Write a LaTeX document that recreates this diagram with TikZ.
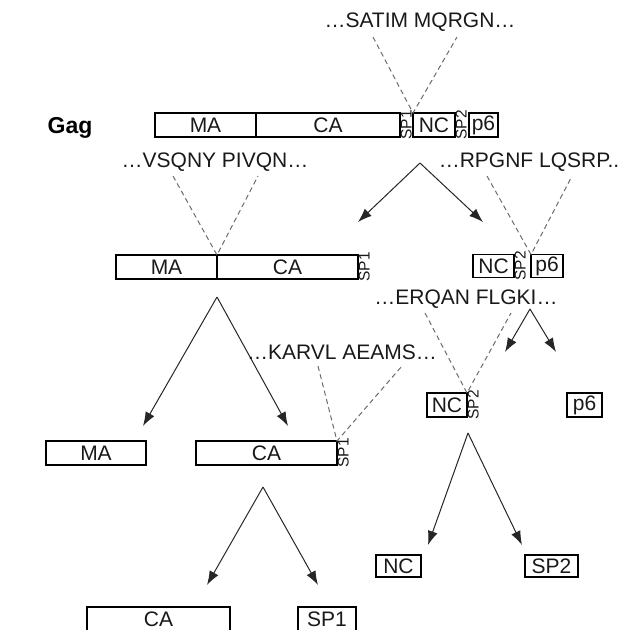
\documentclass[tikz,border=0pt]{standalone}
\usepackage{fontspec}
\setmainfont{Liberation Sans}
\usetikzlibrary{arrows.meta,positioning}

\tikzset{
  seg/.style={draw, line width=1.3pt, outer sep=0pt, inner sep=0pt,
    minimum height=24pt, text=black!90, font=\fontsize{21}{22}\selectfont},
  cut/.style={rotate=90, inner sep=0.5pt, text=black!90,
    font=\fontsize{15.5}{16}\selectfont},
  seq/.style={text=black!90, font=\fontsize{21}{22}\selectfont},
  site/.style={gray!85!black, line width=1pt, dash pattern=on 5pt off 3.5pt},
  split/.style={-{Latex[length=14pt,width=10pt]}, black!85, line width=1pt}
}

\begin{document}
\begin{tikzpicture}[x=1pt,y=-1pt]
  \useasboundingbox (0,0) rectangle (624,630);
  \clip (0,0) rectangle (624,630);

  % full Gag
  \node[font=\fontsize{23}{24}\bfseries] (gag) at (70,128) {Gag};
  \node[seg, minimum width=101pt, anchor=west] (gMA) at (155,125) {MA};
  \node[seg, minimum width=144pt, right=0pt of gMA] (gCA) {CA};
  \node[cut, anchor=north] (gSP1) at (gCA.east) {SP1};
  \node[seg, minimum width=42pt, anchor=west] (gNC) at (413,125) {NC};
  \node[cut, anchor=north] (gSP2) at (gNC.east) {SP2};
  \node[seg, minimum width=29pt, anchor=west] (gp6) at (469,125) {p6};

  % first cut
  \node[seq] (sNC) at (420,22) {…SATIM MQRGN…};
  \draw[site] ([xshift=-47pt,yshift=-15pt]sNC.center) -- (gNC.north west)
    -- ([xshift=37pt,yshift=-15pt]sNC.center);
  \coordinate (gTop) at (420,163);
  \coordinate (gLeft) at (358,222);
  \coordinate (gRight) at (483,222);
  \draw[split] (gTop) -- (gLeft);
  \draw[split] (gTop) -- (gRight);

  % MA-CA-SP1 and NC-SP2-p6
  \node[seg, minimum width=101pt, anchor=west] (bMA) at (116,267) {MA};
  \node[seg, minimum width=141pt, right=0pt of bMA] (bCA) {CA};
  \node[cut, anchor=north] (bSP1) at (bCA.east) {SP1};
  \node[seg, minimum width=41pt, minimum height=23pt, anchor=west] (bNC) at (473,266) {NC};
  \node[cut, anchor=north] (bSP2) at (bNC.east) {SP2};
  \node[seg, minimum width=32pt, minimum height=23pt, anchor=west] (bp6) at (531,266) {p6};

  \node[seq] (sCA) at (215,162) {…VSQNY PIVQN…};
  \draw[site] ([xshift=-42pt,yshift=-14pt]sCA.center) -- (bMA.north east)
    -- ([xshift=43pt,yshift=-14pt]sCA.center);
  \node[seq] (sp6) at (529,162) {…RPGNF LQSRP..};
  \draw[site] ([xshift=-42pt,yshift=-14pt]sp6.center) -- (bp6.north west)
    -- ([xshift=43pt,yshift=-14pt]sp6.center);

  \coordinate (bTop) at (217,297);
  \coordinate (bLeft) at (143,426);
  \coordinate (bRight) at (288,426);
  \draw[split] (bTop) -- (bLeft);
  \draw[split] (bTop) -- (bRight);
  \coordinate (pTop) at (530,309);
  \coordinate (pLeft) at (505,352);
  \coordinate (pRight) at (556,352);
  \draw[split] (pTop) -- (pLeft);
  \draw[split] (pTop) -- (pRight);

  % third row
  \node[seg, minimum width=100pt, anchor=west] (cMA) at (46,453) {MA};
  \node[seg, minimum width=141pt, anchor=west] (cCA) at (196,453) {CA};
  \node[cut, anchor=north] (cSP1) at (cCA.east) {SP1};
  \node[seg, minimum width=40pt, anchor=west] (cNC) at (427,405) {NC};
  \node[cut, anchor=north] (cSP2) at (cNC.east) {SP2};
  \node[seg, minimum width=35pt, anchor=west] (cp6) at (567,405) {p6};

  \node[seq] (sSP2) at (466,299) {…ERQAN FLGKI…};
  \draw[site] ([xshift=-41pt,yshift=-14pt]sSP2.center) -- (cNC.north east)
    -- ([xshift=45pt,yshift=-14pt]sSP2.center);
  \node[seq] (sSP1) at (342,352) {…KARVL AEAMS…};
  \draw[site] ([xshift=-24pt,yshift=-14pt]sSP1.center) -- (cCA.north east)
    -- ([xshift=60pt,yshift=-14pt]sSP1.center);

  \coordinate (cTop) at (263,487);
  \coordinate (cLeft) at (207,585);
  \coordinate (cRight) at (318,585);
  \draw[split] (cTop) -- (cLeft);
  \draw[split] (cTop) -- (cRight);
  \coordinate (nTop) at (468,433);
  \coordinate (nLeft) at (428,545);
  \coordinate (nRight) at (522,545);
  \draw[split] (nTop) -- (nLeft);
  \draw[split] (nTop) -- (nRight);

  % products
  \node[seg, minimum width=45pt, minimum height=22pt, anchor=west] (dNC) at (376,566) {NC};
  \node[seg, minimum width=53pt, minimum height=22pt, anchor=west] (dSP2) at (525,566) {SP2};
  \node[seg, minimum width=143pt, anchor=west] (eCA) at (87,619) {CA};
  \node[seg, minimum width=58pt, anchor=west] (eSP1) at (298,619) {SP1};
\end{tikzpicture}
\end{document}
